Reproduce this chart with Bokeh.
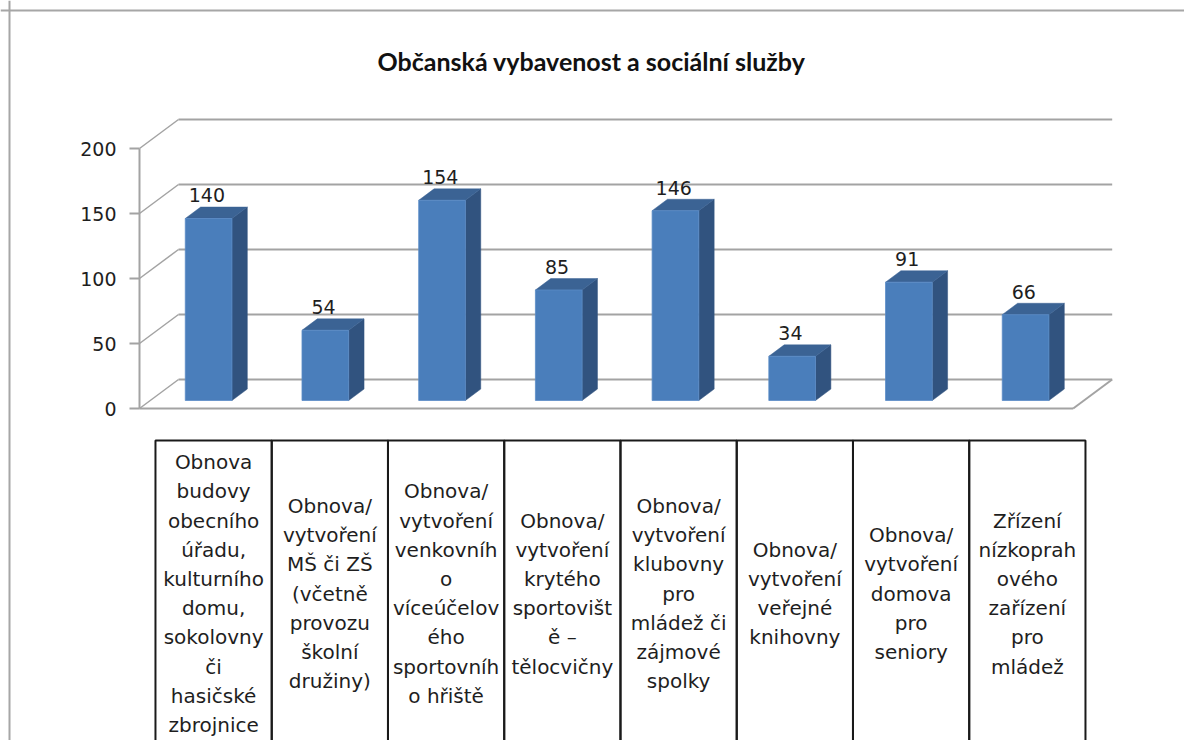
from bokeh.plotting import figure
from bokeh.models import Range1d, LinearAxis, FixedTicker, Span, Label
from bokeh.core.properties import value
from bokeh.embed import file_html
from bokeh.resources import INLINE

# ---------------- data ----------------
title_text = "Občanská vybavenost a sociální služby"
categories = [
    "Obnova\nbudovy\nobecního\núřadu,\nkulturního\ndomu,\nsokolovny\nči\nhasičské\nzbrojnice",
    "Obnova/\nvytvoření\nMŠ či ZŠ\n(včetně\nprovozu\nškolní\ndružiny)",
    "Obnova/\nvytvoření\nvenkovníh\no\nvíceúčelov\ného\nsportovníh\no hřiště",
    "Obnova/\nvytvoření\nkrytého\nsportovišt\ně –\ntělocvičny",
    "Obnova/\nvytvoření\nklubovny\npro\nmládež či\nzájmové\nspolky",
    "Obnova/\nvytvoření\nveřejné\nknihovny",
    "Obnova/\nvytvoření\ndomova\npro\nseniory",
    "Zřízení\nnízkoprah\nového\nzařízení\npro\nmládež",
]
values = [140, 54, 154, 85, 146, 34, 91, 66]
y_ticks = [0, 50, 100, 150, 200]

# ---------------- layout constants ----------------
W, H = 1184, 740
SX = 116.71          # px per category
SY = 1.3             # px per value unit
X0_PX = 139          # px of front-left edge (category -0.5)
V0_PX = 408          # px (from top) of value 0 on front plane

def px_x(fx):
    return (fx - X0_PX) / SX - 0.5

def px_v(fy):
    return (V0_PX - fy) / SY

n = len(values)
idx = list(range(n))
ymax = y_ticks[-1]

DX = 39 / SX          # depth vector in data units
DY = 29 / SY
D1, D2 = 0.276, 0.67  # bar depth span
HW = 0.2              # bar half width
LABEL_GAP = 24

p = figure(width=W, height=H, output_backend="svg", toolbar_location=None,
           x_range=Range1d(px_x(0), px_x(W)), y_range=Range1d(px_v(H), px_v(0)),
           x_axis_type=None, y_axis_type=None, min_border=0,
           border_fill_color="white", background_fill_color="white")
p.outline_line_color = None

GRID = "#a3a3a3"

# back wall gridlines
bx0, bx1 = -0.5 + DX, n - 0.5 + DX
p.segment(x0=[bx0] * len(y_ticks), x1=[bx1] * len(y_ticks),
          y0=[t + DY for t in y_ticks], y1=[t + DY for t in y_ticks],
          line_color=GRID, line_width=2)
# side wall diagonals
p.segment(x0=[-0.5] * len(y_ticks), x1=[-0.5 + DX] * len(y_ticks),
          y0=y_ticks, y1=[t + DY for t in y_ticks],
          line_color=GRID, line_width=1.5)
# floor front edge and right edge
p.segment(x0=[-0.5, n - 0.5], x1=[n - 0.5, n - 0.5 + DX],
          y0=[0, 0], y1=[0, DY], line_color=GRID, line_width=2)

# bars: side faces, top faces, front faces
side_xs, side_ys, top_xs, top_ys = [], [], [], []
for i, v in zip(idx, values):
    r1 = i + HW + D1 * DX
    r2 = i + HW + D2 * DX
    l1 = i - HW + D1 * DX
    l2 = i - HW + D2 * DX
    side_xs.append([r1, r2, r2, r1])
    side_ys.append([D1 * DY, D2 * DY, v + D2 * DY, v + D1 * DY])
    top_xs.append([l1, r1, r2, l2])
    top_ys.append([v + D1 * DY, v + D1 * DY, v + D2 * DY, v + D2 * DY])
p.patches(xs=side_xs, ys=side_ys, fill_color="#31537f", line_color="#31537f", line_width=0.5)
p.patches(xs=top_xs, ys=top_ys, fill_color="#3b6394", line_color="#3b6394", line_width=0.5)
p.vbar(x=[i + D1 * DX for i in idx], width=2 * HW,
       bottom=D1 * DY, top=[v + D1 * DY for v in values],
       fill_color="#4a7ebb", line_color="#5a8bc6", line_width=0.8)

# data labels
p.text(x=[i + D1 * DX - 0.015 for i in idx], y=[v + LABEL_GAP for v in values],
       text=[str(v) for v in values], text_align="center", text_baseline="alphabetic",
       text_font=value("DejaVu Sans"), text_font_size=value("19px"), text_color="#1e1e1e")

# y axis on the front-left edge
yaxis = LinearAxis(fixed_location=-0.5, bounds=(0, ymax),
                   ticker=FixedTicker(ticks=y_ticks, minor_ticks=[]))
yaxis.axis_line_color = GRID
yaxis.axis_line_width = 2
yaxis.major_tick_line_color = GRID
yaxis.major_tick_line_width = 2
yaxis.major_tick_in = 0
yaxis.major_tick_out = 10
yaxis.minor_tick_line_color = None
yaxis.major_label_text_font = "DejaVu Sans"
yaxis.major_label_text_font_size = "19px"
yaxis.major_label_text_color = "#1e1e1e"
yaxis.major_label_standoff = 13
p.add_layout(yaxis, "left")

# category table below the chart
TS = 116.25 / SX                 # table column pitch in category units
TC0 = px_x(213.1)                # centre of first table column
tcent = [TC0 + i * TS for i in idx]
t_top = px_v(440)
t_bot = px_v(H + 30)
p.quad(left=[c - TS / 2 for c in tcent], right=[c + TS / 2 for c in tcent],
       top=t_top, bottom=t_bot, fill_color=None, line_color="#1a1a1a", line_width=2)

LH = 29.2 / SY
t_mid = px_v(593)
lx, ly, lt = [], [], []
for c, cat in zip(tcent, categories):
    lines = cat.split("\n")
    m = len(lines)
    for k, s in enumerate(lines):
        lx.append(c)
        ly.append(t_mid + ((m - 1) / 2 - k) * LH)
        lt.append(s)
p.text(x=lx, y=ly, text=lt, text_align="center", text_baseline="middle",
       text_font=value("DejaVu Sans"), text_font_size=value("20px"), text_color="#1e1e1e")

# title
p.add_layout(Label(x=px_x(591), y=px_v(60), text=title_text, text_align="center",
                   text_baseline="alphabetic", text_font="Lato", text_font_style="bold",
                   text_font_size="25px", text_color="#111111"))

# outer chart-area border (top and left)
p.add_layout(Span(location=px_x(9), dimension="height", line_color="#a6a6a6", line_width=2))
p.add_layout(Span(location=px_v(10), dimension="width", line_color="#a6a6a6", line_width=2))

open("out.html", "w").write(file_html(p, INLINE))
